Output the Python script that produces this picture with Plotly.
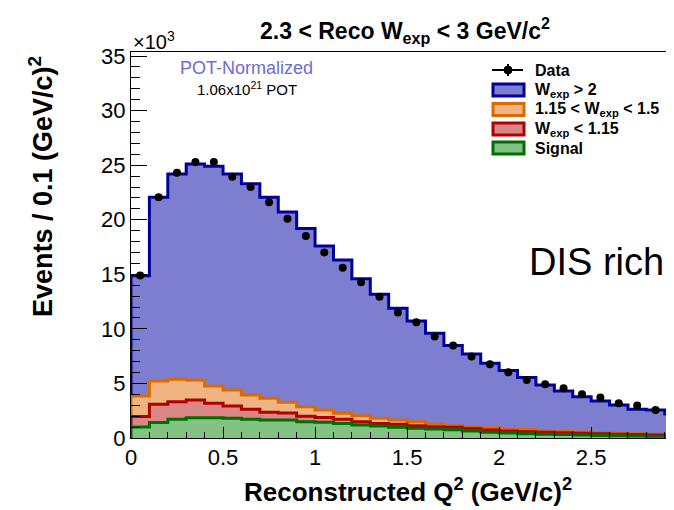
import plotly.graph_objects as go

# ---------------- data (values in units of 10^3 events per 0.1 (GeV/c)^2) ----------------
bin_edges = [0.0, 0.1, 0.2, 0.3, 0.4, 0.5, 0.6, 0.7, 0.8, 0.9, 1.0,
             1.1, 1.2, 1.3, 1.4, 1.5, 1.6, 1.7, 1.8, 1.9, 2.0,
             2.1, 2.2, 2.3, 2.4, 2.5, 2.6, 2.7, 2.8, 2.9, 3.0]
bin_centers = [0.05, 0.15, 0.25, 0.35, 0.45, 0.55, 0.65, 0.75, 0.85, 0.95,
               1.05, 1.15, 1.25, 1.35, 1.45, 1.55, 1.65, 1.75, 1.85, 1.95,
               2.05, 2.15, 2.25, 2.35, 2.45, 2.55, 2.65, 2.75, 2.85, 2.95]

# stacked levels (top of each layer of the THStack)
top_w_gt_2 = [14.86, 22.05, 24.2, 25.1, 24.9, 24.2, 23.3, 22.05, 20.7, 19.2,
              17.6, 16.3, 14.6, 13.18, 11.9, 10.73, 9.6, 8.47, 7.7, 6.85,
              6.18, 5.54, 4.86, 4.31, 3.79, 3.4, 3.03, 2.63, 2.57, 2.2]
top_w_115_15 = [3.85, 5.23, 5.38, 5.32, 4.77, 4.4, 3.94, 3.64, 3.27, 2.87,
                2.57, 2.26, 2.05, 1.80, 1.65, 1.50, 1.28, 1.13, 1.02, 0.95,
                0.83, 0.77, 0.67, 0.61, 0.55, 0.49, 0.43, 0.40, 0.34, 0.28]
top_w_lt_115 = [1.96, 3.09, 3.33, 3.49, 3.18, 2.94, 2.63, 2.35, 2.28, 2.0,
                1.87, 1.71, 1.50, 1.34, 1.25, 1.13, 1.04, 0.98, 0.86, 0.73,
                0.64, 0.58, 0.52, 0.49, 0.43, 0.40, 0.34, 0.31, 0.28, 0.24]
top_signal = [1.0, 1.42, 1.71, 1.86, 1.86, 1.8, 1.71, 1.65, 1.65, 1.5,
              1.44, 1.32, 1.19, 1.10, 0.98, 0.89, 0.83, 0.76, 0.65, 0.52,
              0.46, 0.40, 0.34, 0.31, 0.28, 0.24, 0.21, 0.18, 0.15, 0.15]
data_vals = [14.9, 22.05, 24.3, 25.3, 25.3, 23.95, 23.0, 21.6, 20.1, 18.5,
             17.0, 15.6, 14.27, 12.95, 11.5, 10.6, 9.3, 8.47, 7.46, 6.76,
             6.03, 5.32, 4.92, 4.55, 4.0, 3.7, 3.18, 2.97, 2.57, 2.45]

legend_labels = ["<b>Data</b>", "<b>W<sub>exp</sub> > 2</b>",
                 "<b>1.15 < W<sub>exp</sub> < 1.5</b>",
                 "<b>W<sub>exp</sub> < 1.15</b>", "<b>Signal</b>"]

FONT = "Liberation Sans"

layers = [
    (legend_labels[1], top_w_gt_2, "#00009a", "#7e7ed0"),
    (legend_labels[2], top_w_115_15, "#dc6a00", "#f0b382"),
    (legend_labels[3], top_w_lt_115, "#b00000", "#d98686"),
    (legend_labels[4], top_signal, "#006e00", "#82c282"),
]

fig = go.Figure()
for name, vals, lc, fc in layers:
    xs = [bin_edges[0]] + bin_edges
    ys = [0] + vals + [vals[-1]]
    fig.add_trace(go.Scatter(
        x=xs, y=ys, mode="lines", line=dict(color=lc, width=3, shape="hv"),
        fill="tozeroy", fillcolor=fc, name=name, hoverinfo="skip"))

fig.add_trace(go.Scatter(
    x=bin_centers, y=data_vals, mode="markers", name=legend_labels[0],
    marker=dict(color="black", size=8)))

# The page body has an 8px margin: the figure is drawn 8px right/down.
OFF = 8
W, H = 674 - OFF, 510 - OFF
# plot area in reference-window pixels: x 131..674, y 52..438
X0, X1, Y0, Y1 = 131, 674, 52, 438
L, T = X0 - OFF, Y0 - OFF
B = H - (Y1 - OFF)


def px(X):
    return (X - X0) / (X1 - X0)


def py(Y):
    return (Y1 - Y) / (Y1 - Y0)


fig.update_layout(
    width=W, height=H,
    margin=dict(l=L, r=0, t=T, b=B, autoexpand=False),
    paper_bgcolor="white", plot_bgcolor="white",
    font=dict(family=FONT, color="black"),
    showlegend=False,
    title=dict(text="<b>2.3 < Reco W<sub>exp</sub> < 3 GeV/c<sup>2</sup></b>",
               x=(405 - OFF) / W, y=(H - (31 - OFF)) / H, xanchor="center",
               yanchor="middle", font=dict(size=23, family=FONT)),
    xaxis=dict(range=[0, 2.95], showgrid=False, zeroline=False,
               showline=True, linecolor="black", linewidth=1, mirror=True,
               ticks="inside", ticklen=11, tickcolor="black",
               tickvals=[0, 0.5, 1, 1.5, 2, 2.5],
               ticktext=["0", "0.5", "1", "1.5", "2", "2.5"],
               tickfont=dict(size=22, family=FONT),
               minor=dict(ticks="inside", ticklen=6, dtick=0.1, tickcolor="black")),
    yaxis=dict(range=[0, 35.37], showgrid=False, zeroline=False,
               showline=True, linecolor="black", linewidth=1, mirror=True,
               ticks="inside", ticklen=16, tickcolor="black",
               tickvals=[0, 5, 10, 15, 20, 25, 30, 35],
               tickfont=dict(size=22, family=FONT),
               minor=dict(ticks="inside", ticklen=9, dtick=1, tickcolor="black")),
)

ann = [
    dict(text="×10<sup>3</sup>", x=px(131), y=py(41), xanchor="left", yanchor="middle",
         font=dict(size=20)),
    dict(text="POT-Normalized", x=px(246), y=py(68), xanchor="center", yanchor="middle",
         font=dict(size=18, color="#6b6bdc")),
    dict(text="1.06x10<sup>21</sup> POT", x=px(247), y=py(88), xanchor="center",
         yanchor="middle", font=dict(size=15)),
    dict(text="DIS rich", x=px(596), y=py(262), xanchor="center", yanchor="middle",
         font=dict(size=38)),
    dict(text="<b>Reconstructed Q<sup>2</sup> (GeV/c)<sup>2</sup></b>", x=px(408), y=py(490),
         xanchor="center", yanchor="middle", font=dict(size=26)),
    dict(text="<b>Events / 0.1 (GeV/c)<sup>2</sup></b>", x=px(41), y=py(187),
         xanchor="center", yanchor="middle", textangle=-90, font=dict(size=27)),
]

# manual legend (ROOT TLegend look)
shapes = []
leg_y = [70, 90, 109.5, 129, 148]
bx0, bx1, tx = 492, 525, 533
shapes.append(dict(type="line", x0=px(bx0), x1=px(bx1 - 2), y0=py(leg_y[0]), y1=py(leg_y[0]),
                   line=dict(color="black", width=2)))
shapes.append(dict(type="line", x0=px(508), x1=px(508), y0=py(leg_y[0] - 6), y1=py(leg_y[0] + 6),
                   line=dict(color="black", width=2)))
shapes.append(dict(type="circle", x0=px(504), x1=px(512), y0=py(leg_y[0] - 4), y1=py(leg_y[0] + 4),
                   fillcolor="black", line=dict(color="black", width=1)))
for (name, vals, lc, fc), yc in zip(layers, leg_y[1:]):
    shapes.append(dict(type="rect", x0=px(bx0 + 1), x1=px(bx1 - 1), y0=py(yc - 6), y1=py(yc + 6),
                       fillcolor=fc, line=dict(color=lc, width=3)))
for lab, yc in zip(legend_labels, leg_y):
    ann.append(dict(text=lab, x=px(tx), y=py(yc), xanchor="left", yanchor="middle",
                    font=dict(size=16)))

for a in ann:
    a.update(xref="paper", yref="paper", showarrow=False)
    a["font"].setdefault("family", FONT)
    a["font"].setdefault("color", "black")
for s in shapes:
    s.update(xref="paper", yref="paper", layer="above")
fig.update_layout(annotations=ann, shapes=shapes)

fig.write_html("out.html")
